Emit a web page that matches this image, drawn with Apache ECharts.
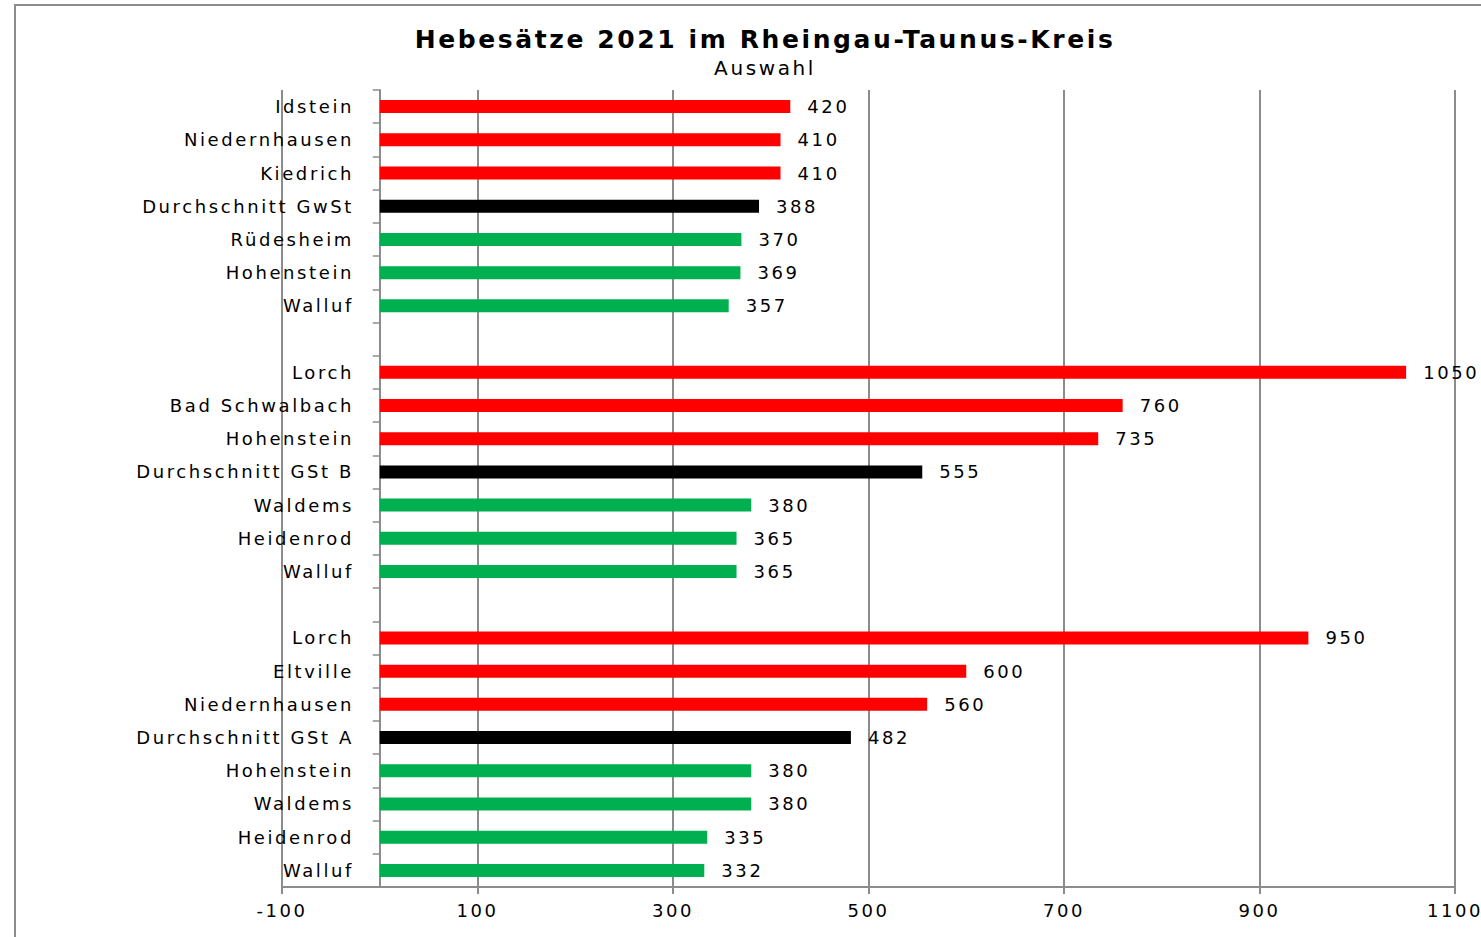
<!DOCTYPE html>
<html>
<head>
<meta charset="utf-8">
<script src="https://cdn.jsdelivr.net/npm/echarts@6/dist/echarts.min.js"></script>
<style>
  html, body { margin: 0; padding: 0; background: #fff; }
  #chart { width: 1481px; height: 937px; }
  /* die Vorlage hat breit laufende Schrift */
  #chart svg text { letter-spacing: 2.6px; }
</style>
</head>
<body>
<div id="chart"></div>
<script>
// Kategorien von oben nach unten, leere Einträge = Abstand zwischen den Gruppen
const categories = [
  'Idstein', 'Niedernhausen', 'Kiedrich', 'Durchschnitt GwSt', 'Rüdesheim', 'Hohenstein', 'Walluf',
  '',
  'Lorch', 'Bad Schwalbach', 'Hohenstein', 'Durchschnitt GSt B', 'Waldems', 'Heidenrod', 'Walluf',
  '',
  'Lorch', 'Eltville', 'Niedernhausen', 'Durchschnitt GSt A', 'Hohenstein', 'Waldems', 'Heidenrod', 'Walluf'
]
const values = [
  420, 410, 410, 388, 370, 369, 357,
  null,
  1050, 760, 735, 555, 380, 365, 365,
  null,
  950, 600, 560, 482, 380, 380, 335, 332
]
// h = über, d = Durchschnitt, n = unter
const groups = [
  'h', 'h', 'h', 'd', 'n', 'n', 'n',
  '',
  'h', 'h', 'h', 'd', 'n', 'n', 'n',
  '',
  'h', 'h', 'h', 'd', 'n', 'n', 'n', 'n'
]
const xTicks = [-100, 100, 300, 500, 700, 900, 1100]

const colorMap = { h: '#ff0000', d: '#000000', n: '#00b050' }
const font = 'DejaVu Sans, Verdana, sans-serif'

const chart = echarts.init(document.getElementById('chart'), null, { renderer: 'svg' })

chart.setOption({
  backgroundColor: '#fff',
  animation: false,
  title: {
    text: 'Hebesätze 2021 im Rheingau-Taunus-Kreis',
    subtext: 'Auswahl',
    left: 760,
    top: 22,
    textAlign: 'center',
    itemGap: 6,
    textStyle: { fontFamily: font, fontSize: 25, fontWeight: 'bold', color: '#000' },
    subtextStyle: { fontFamily: font, fontSize: 20, color: '#000' }
  },
  graphic: [{
    type: 'rect',
    shape: { x: 15, y: 5, width: 1500, height: 1000 },
    style: { fill: 'none', stroke: '#8c8c8c', lineWidth: 2 },
    silent: true
  }],
  grid: {
    left: 282,
    right: 26,
    top: 90,
    bottom: 50,
    outerBoundsMode: 'none'
  },
  xAxis: {
    type: 'value',
    min: xTicks[0],
    max: xTicks[xTicks.length - 1],
    interval: 200,
    axisLine: { show: true, lineStyle: { color: '#8c8c8c', width: 2 } },
    axisTick: { show: true, length: 7, lineStyle: { color: '#8c8c8c', width: 2 } },
    axisLabel: {
      fontFamily: font, fontSize: 18, color: '#000', margin: 14,
      formatter: v => String(v)
    },
    splitLine: { show: true, lineStyle: { color: '#8c8c8c', width: 2 } }
  },
  yAxis: {
    type: 'category',
    inverse: true,
    data: categories,
    axisLine: { show: true, onZero: true, lineStyle: { color: '#8c8c8c', width: 2 } },
    axisTick: { show: true, length: 7, lineStyle: { color: '#8c8c8c', width: 1.5 } },
    axisLabel: { fontFamily: font, fontSize: 18, color: '#000', margin: -72, interval: 0 },
    splitLine: { show: false }
  },
  series: [{
    type: 'bar',
    barWidth: 13,
    data: values.map((v, i) => ({
      value: v,
      itemStyle: { color: colorMap[groups[i]] || '#000' }
    })),
    label: {
      show: true,
      position: 'right',
      distance: 17,
      fontFamily: font,
      fontSize: 18,
      color: '#000'
    }
  }]
})
</script>
</body>
</html>
